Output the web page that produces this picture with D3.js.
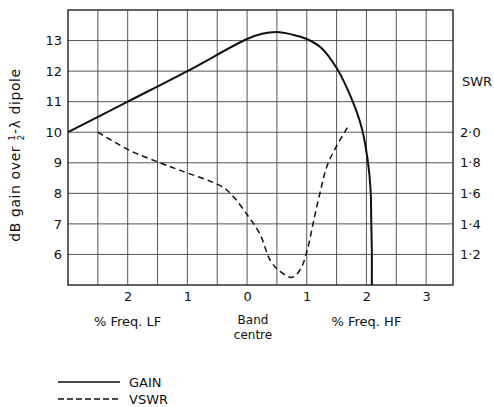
<!DOCTYPE html>
<html>
<head>
<meta charset="utf-8">
<script src="https://cdn.jsdelivr.net/npm/d3@7"></script>
<style>
  body { margin: 0; background: #fff; }
  svg text { font-family: "DejaVu Sans", sans-serif; fill: #111; }
</style>
</head>
<body>
<svg id="chart" width="494" height="407"></svg>
<script>
// % frequency off band centre (negative = LF side) vs. gain in dB
var gainFreq = [-3, -2, -1, 0, 0.25, 0.5, 0.75, 1.0, 1.25, 1.5, 1.75, 1.92, 2.02, 2.07, 2.08, 2.09, 2.09];
var gainDb   = [10, 11, 12, 13.05, 13.22, 13.28, 13.2, 13.05, 12.75, 12.1, 11.1, 10.15, 9.1, 8.1, 7.1, 6.1, 5.0];

// VSWR curve, read against the right hand scale
var swrFreq = [-2.5, -1.96, -1.46, -1.12, -0.45, -0.28, 0.02, 0.22, 0.39, 0.55, 0.75, 0.89, 1.01, 1.11, 1.22, 1.36, 1.68];
var swrVal  = [2.0, 1.88, 1.8, 1.75, 1.65, 1.6, 1.45, 1.33, 1.16, 1.09, 1.05, 1.1, 1.23, 1.41, 1.6, 1.8, 2.03];

var gainTicks = [6, 7, 8, 9, 10, 11, 12, 13];
var swrTicks = [1.2, 1.4, 1.6, 1.8, 2.0];
var freqTicks = [-2, -1, 0, 1, 2, 3];

(function() {
  var svg = d3.select('#chart');
  var m = { left: 68, right: 453, top: 10, bottom: 285 };

  var x = d3.scaleLinear().domain([-3, 3.45]).range([m.left, m.right]);
  var y = d3.scaleLinear().domain([5, 14]).range([m.bottom, m.top]);
  var ySwr = d3.scaleLinear().domain([1.0, 2.8]).range([m.bottom, m.top]);

  // grid
  var grid = svg.append('g').attr('stroke', '#444').attr('stroke-width', 0.9);
  grid.selectAll('line.v')
    .data(d3.range(-2.5, 3.01, 0.5))
    .enter().append('line').attr('class', 'v')
    .attr('x1', function(d) { return x(d); })
    .attr('x2', function(d) { return x(d); })
    .attr('y1', m.top).attr('y2', m.bottom);
  grid.selectAll('line.h')
    .data(d3.range(6, 14, 1))
    .enter().append('line').attr('class', 'h')
    .attr('y1', function(d) { return y(d); })
    .attr('y2', function(d) { return y(d); })
    .attr('x1', m.left).attr('x2', m.right);

  svg.append('rect')
    .attr('x', m.left).attr('y', m.top)
    .attr('width', m.right - m.left).attr('height', m.bottom - m.top)
    .attr('fill', 'none').attr('stroke', '#222').attr('stroke-width', 1.4);

  // axes (labels only, the grid does the lines)
  function bare(g) {
    g.select('.domain').remove();
    g.selectAll('text').attr('font-size', 13).attr('font-family', '"DejaVu Sans", sans-serif').attr('fill', '#111');
  }

  svg.append('g').attr('transform', 'translate(' + m.left + ',0)')
    .call(d3.axisLeft(y).tickValues(gainTicks).tickSize(0).tickPadding(6))
    .call(bare);

  svg.append('g').attr('transform', 'translate(' + m.right + ',0)')
    .call(d3.axisRight(ySwr).tickValues(swrTicks).tickSize(0).tickPadding(7)
      .tickFormat(function(d) { return d3.format('.1f')(d).replace('.', '\u00b7'); }))
    .call(bare);

  svg.append('g').attr('transform', 'translate(0,' + m.bottom + ')')
    .call(d3.axisBottom(x).tickValues(freqTicks).tickSize(0).tickPadding(7)
      .tickFormat(function(d) { return Math.abs(d); }))
    .call(bare);

  // curves
  svg.append('path')
    .attr('d', d3.line()
      .x(function(d, i) { return x(gainFreq[i]); })
      .y(function(d) { return y(d); })
      .curve(d3.curveCatmullRom)(gainDb))
    .attr('fill', 'none').attr('stroke', '#111').attr('stroke-width', 2);

  svg.append('path')
    .attr('d', d3.line()
      .x(function(d, i) { return x(swrFreq[i]); })
      .y(function(d) { return ySwr(d); })
      .curve(d3.curveCatmullRom)(swrVal))
    .attr('fill', 'none').attr('stroke', '#111').attr('stroke-width', 1.5)
    .attr('stroke-dasharray', '6,4');

  // titles
  var yt = svg.append('text')
    .attr('transform', 'translate(20,155) rotate(-90)')
    .attr('text-anchor', 'middle').attr('font-size', 14).attr('letter-spacing', 0.6);
  yt.append('tspan').text('dB gain over ');
  yt.append('tspan').attr('font-size', 9).attr('dy', -5).text('1');
  yt.append('tspan').attr('font-size', 9).attr('dx', -6).attr('dy', 9).text('2');
  yt.append('tspan').attr('dy', -4).text('-\u03bb dipole');

  svg.append('text').attr('x', 462).attr('y', 86).attr('font-size', 13).text('SWR');

  svg.append('text').attr('x', x(-2)).attr('y', 326).attr('text-anchor', 'middle')
    .attr('font-size', 13).text('% Freq. LF');
  svg.append('text').attr('x', x(2)).attr('y', 326).attr('text-anchor', 'middle')
    .attr('font-size', 13).text('% Freq. HF');
  svg.append('text').attr('x', 253).attr('y', 324).attr('text-anchor', 'middle')
    .attr('font-size', 12).text('Band');
  svg.append('text').attr('x', 253).attr('y', 339).attr('text-anchor', 'middle')
    .attr('font-size', 12).text('centre');

  // legend
  var legend = svg.append('g');
  legend.append('line').attr('x1', 58).attr('x2', 120).attr('y1', 382).attr('y2', 382)
    .attr('stroke', '#111').attr('stroke-width', 1.3);
  legend.append('text').attr('x', 129).attr('y', 387).attr('font-size', 13).text('GAIN');
  legend.append('line').attr('x1', 58).attr('x2', 120).attr('y1', 399).attr('y2', 399)
    .attr('stroke', '#111').attr('stroke-width', 1.3).attr('stroke-dasharray', '6,3');
  legend.append('text').attr('x', 129).attr('y', 404).attr('font-size', 13).text('VSWR');
})();
</script>
</body>
</html>
